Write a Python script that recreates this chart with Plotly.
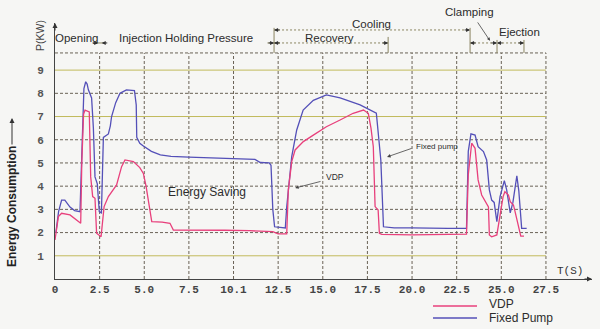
import plotly.graph_objects as go

# ---------------- data ----------------
t_fixed = [0.05, 0.2, 0.37, 0.55, 0.84, 1.1, 1.4, 1.5, 1.62, 1.72, 1.8, 1.87, 2.05, 2.15, 2.24, 2.37,
           2.48, 2.6, 2.71, 2.99, 3.1, 3.17, 3.4, 3.64, 4.0, 4.45, 4.55, 4.58, 4.75, 4.95, 5.4, 5.9,
           6.5, 7.5, 8.5, 9.5, 10.5, 11.2, 11.5, 12.0, 12.1, 12.2, 12.3, 12.9, 12.98, 13.26, 13.54,
           13.9, 14.47, 15.2, 15.97, 17.09, 18.0, 18.1, 18.25, 18.4, 19.0, 20.0, 21.0, 22.0, 23.05,
           23.15, 23.3, 23.53, 23.7, 24.0, 24.18, 24.33, 24.46, 24.6, 24.75, 24.93, 25.17, 25.3,
           25.5, 25.65, 25.87, 25.98, 26.14, 26.42]
p_fixed = [2.0, 2.9, 3.4, 3.4, 3.1, 2.95, 2.9, 5.5, 8.2, 8.5, 8.4, 8.15, 7.8, 6.5, 4.4, 4.1,
           2.9, 2.85, 6.1, 6.25, 6.6, 7.0, 7.6, 8.0, 8.15, 8.12, 7.5, 6.1, 5.85, 5.73, 5.5, 5.35,
           5.28, 5.25, 5.22, 5.2, 5.18, 5.15, 5.02, 5.0, 4.9, 3.0, 2.25, 2.2, 3.1, 5.27, 6.42,
           7.28, 7.7, 7.93, 7.8, 7.5, 7.14, 6.3, 5.13, 2.25, 2.2, 2.2, 2.18, 2.18, 2.18,
           5.5, 6.25, 6.2, 5.7, 5.49, 5.13, 3.84, 3.4, 3.3, 2.47, 3.55, 4.24, 3.84,
           2.85, 3.3, 4.44, 3.8, 2.18, 2.18]

t_vdp = [0.0, 0.19, 0.37, 0.84, 1.44, 1.5, 1.6, 1.68, 1.92, 1.98, 2.0, 2.11, 2.24, 2.33, 2.48, 2.58,
         2.75, 2.99, 3.45, 3.73, 3.92, 4.39, 4.75, 4.95, 5.1, 5.23, 5.42, 6.0, 6.44, 6.63, 8.1, 9.5,
         10.9, 12.2, 12.5, 12.98, 13.07, 13.26, 13.45, 13.91, 14.47, 15.2, 15.97, 16.7, 17.28,
         17.55, 17.7, 17.83, 17.93, 18.1, 18.17, 18.3, 20.0, 22.0, 23.05, 23.15, 23.34, 23.53,
         23.7, 23.9, 24.18, 24.28, 24.33, 24.46, 24.75, 24.93, 25.1, 25.2, 25.4, 25.5, 25.68,
         25.77, 25.96, 26.09, 26.27]
p_vdp = [1.68, 2.69, 2.83, 2.76, 2.4, 5.0, 7.1, 7.28, 7.2, 5.5, 4.4, 3.55, 3.48, 1.97, 1.9, 1.82,
         3.12, 3.55, 4.05, 4.84, 5.13, 5.06, 4.8, 4.55, 4.0, 3.4, 2.47, 2.45, 2.4, 2.11, 2.12, 2.1,
         2.08, 2.04, 1.94, 1.94, 3.84, 5.06, 5.56, 5.92, 6.2, 6.56, 6.85, 7.14, 7.28,
         7.14, 6.5, 5.7, 3.12, 2.97, 1.97, 1.92, 1.9, 1.9, 1.93, 4.5, 5.85, 5.63,
         4.27, 3.62, 3.26, 3.1, 1.9, 1.82, 1.9, 2.83, 3.55, 3.76, 3.62, 3.33, 3.19,
         2.9, 2.25, 1.85, 1.85]

x_ticks = [0, 2.5, 5.0, 7.5, 10.0, 12.5, 15.0, 17.5, 20.0, 22.5, 25.0, 27.5]
x_ticktext = ["0", "2.5", "5.0", "7.5", "10.1", "12.5", "15.0", "17.5", "20.0", "22.5", "25.0", "27.5"]
y_ticks = [1, 2, 3, 4, 5, 6, 7, 8, 9]
y_yellow = [1, 7, 9]
grid_top = 9.74

# phase brackets (seconds)
b_open_inj = 2.5
b_inj_end = 12.27
b_rec_end = 18.66
b_cool_end = 23.25
b_clamp_end = 24.76
b_eject_end = 26.27

# ---------------- styling ----------------
PINK = "#e8407c"
BLUE = "#5450b8"
GRID_DARK = "#6a6256"
GRID_YEL = "#c2ba5c"
BRK = "#8a8460"
TXT = "#2c2c2c"
BG = "#f6f6f4"
DASH = "3px,2px"

W, H = 600, 329
L, R, T, B = 55, 8, 23, 50
XMAX = 30.08
YMAX = 11.03

def px(x):  # pixel -> paper
    return (x - L) / (W - L - R)

def py(y):
    return (H - B - y) / (H - T - B)

fig = go.Figure()
fig.add_trace(go.Scatter(x=t_fixed, y=p_fixed, mode="lines", name="Fixed Pump",
                         line=dict(color=BLUE, width=1.3), showlegend=False))
fig.add_trace(go.Scatter(x=t_vdp, y=p_vdp, mode="lines", name="VDP",
                         line=dict(color=PINK, width=1.3), showlegend=False))

shapes = []
# vertical grid
for xv in x_ticks[1:]:
    shapes.append(dict(type="line", xref="x", yref="y", x0=xv, x1=xv, y0=0, y1=grid_top,
                       line=dict(color=GRID_DARK, width=1, dash=DASH), layer="below"))
# horizontal grid
for yv in y_ticks:
    yel = yv in y_yellow
    shapes.append(dict(type="line", xref="x", yref="y", x0=0, x1=x_ticks[-1], y0=yv, y1=yv,
                       line=dict(color=GRID_YEL if yel else GRID_DARK, width=1,
                                 dash="solid" if yel else DASH), layer="below"))
shapes.append(dict(type="line", xref="x", yref="y", x0=0, x1=x_ticks[-1], y0=grid_top, y1=grid_top,
                   line=dict(color=GRID_DARK, width=1, dash=DASH), layer="below"))

# bracket lines
def hline(x0, x1, y, dash="2px,2px"):
    shapes.append(dict(type="line", xref="x", yref="y", x0=x0, x1=x1, y0=y, y1=y,
                       line=dict(color=BRK, width=1, dash=dash)))

def vline(x, y0, y1):
    shapes.append(dict(type="line", xref="x", yref="y", x0=x, x1=x, y0=y0, y1=y1,
                       line=dict(color=BRK, width=1)))

ROW1 = 10.17
ROW2 = 10.73
hline(2.3, 2.75, ROW1, "solid")
hline(11.9, 12.6, ROW1, "solid")
hline(b_inj_end, b_rec_end, ROW1)
hline(b_inj_end, b_cool_end, ROW2)
hline(b_cool_end, b_eject_end, ROW1)
vline(b_inj_end, grid_top, 10.82)
vline(b_rec_end, grid_top, 10.43)
vline(b_cool_end, grid_top, 10.82)
vline(b_clamp_end, grid_top, 10.3)
vline(b_eject_end, grid_top, 10.3)

# legend keys
shapes.append(dict(type="line", xref="paper", yref="paper", x0=px(433), x1=px(477), y0=py(306), y1=py(306),
                   line=dict(color=PINK, width=1.3)))
shapes.append(dict(type="line", xref="paper", yref="paper", x0=px(433), x1=px(477), y0=py(318), y1=py(318),
                   line=dict(color=BLUE, width=1.3)))

ann = []

def head(x, y, direction):
    # small arrowhead at (x, y) pointing left or right
    ann.append(dict(x=x, y=y, xref="x", yref="y", text="", showarrow=True,
                    ax=(-7 if direction == "right" else 7), ay=0,
                    arrowhead=2, arrowsize=0.8, arrowwidth=1, arrowcolor="#333"))

head(b_open_inj - 0.08, ROW1, "right")
head(b_open_inj + 0.12, ROW1, "left")
head(b_inj_end, ROW1, "right")
head(b_inj_end, ROW1, "left")
head(b_rec_end, ROW1, "right")
head(b_inj_end, ROW2, "left")
head(b_cool_end, ROW2, "right")
head(b_cool_end, ROW1, "left")
head(b_clamp_end, ROW1, "right")
head(b_clamp_end, ROW1, "left")
head(b_eject_end, ROW1, "right")

def label(text, x, y, size=11.5):
    ann.append(dict(x=x, y=y, xref="x", yref="y", text=text,
                    showarrow=False, font=dict(family="Liberation Sans, Arial", size=size, color=TXT),
                    xanchor="center", yanchor="middle"))

def plabel(text, x, y, size=11.5, family="Liberation Sans, Arial", color=TXT, angle=0, xanchor="center"):
    ann.append(dict(x=px(x), y=py(y), xref="paper", yref="paper", text=text, textangle=angle,
                    showarrow=False, font=dict(family=family, size=size, color=color),
                    xanchor=xanchor, yanchor="middle"))

label("Opening", 1.23, 10.39)
label("Injection Holding Pressure", 7.34, 10.39)
label("Recovery", 15.4, 10.39)
label("Cooling", 17.74, 10.99)
plabel("Clamping", 469, 12)
label("Ejection", 26.0, 10.65)
label("Energy Saving", 8.49, 3.75, size=12)

# small callouts with arrows
ann.append(dict(x=13.45, y=3.92, ax=14.96, ay=4.22, axref="x", ayref="y", xref="x", yref="y",
                text="", showarrow=True, arrowhead=2, arrowsize=0.9, arrowwidth=0.8, arrowcolor="#444"))
ann.append(dict(x=15.05, y=4.4, xref="x", yref="y", text="VDP", showarrow=False, xanchor="left",
                yanchor="middle", font=dict(family="Liberation Sans, Arial", size=8.5, color=TXT)))
ann.append(dict(x=18.6, y=5.26, ax=20.06, ay=5.65, axref="x", ayref="y", xref="x", yref="y",
                text="", showarrow=True, arrowhead=2, arrowsize=0.9, arrowwidth=0.8, arrowcolor="#444"))
ann.append(dict(x=20.1, y=5.73, xref="x", yref="y", text="Fixed pump", showarrow=False, xanchor="left",
                yanchor="middle", font=dict(family="Liberation Sans, Arial", size=8, color=TXT)))
ann.append(dict(x=24.37, y=10.26, ax=23.62, ay=11.12, axref="x", ayref="y", xref="x", yref="y",
                text="", showarrow=True, arrowhead=2, arrowsize=0.8, arrowwidth=0.8, arrowcolor="#444"))

# axis arrowheads
ann.append(dict(x=XMAX, y=0, xref="x", yref="y", text="", showarrow=True, ax=-9, ay=0,
                arrowhead=2, arrowsize=1, arrowwidth=1, arrowcolor="#333"))
ann.append(dict(x=0, y=YMAX, xref="x", yref="y", text="", showarrow=True, ax=0, ay=9,
                arrowhead=2, arrowsize=1, arrowwidth=1, arrowcolor="#333"))

# axis titles
plabel("P(KW)", 40, 36, size=10.5, color="#444", angle=-90)
plabel("T(S)", 570, 271, size=11, family="Liberation Mono, Courier New", color="#333")
plabel("<b>Energy Consumption</b>", 12, 207, size=12, color="#222", angle=-90)
ann.append(dict(x=px(12), y=py(118), xref="paper", yref="paper", ax=0, ay=28,
                text="", showarrow=True, arrowhead=2, arrowsize=1,
                arrowwidth=1, arrowcolor="#333"))

# legend text
plabel("VDP", 487, 304, size=12, xanchor="left")
plabel("Fixed Pump", 487, 318, size=12, xanchor="left")

fig.update_layout(
    width=W, height=H,
    margin=dict(l=L, r=R, t=T, b=B),
    paper_bgcolor=BG, plot_bgcolor=BG,
    shapes=shapes, annotations=ann, showlegend=False,
    xaxis=dict(range=[0, XMAX], tickvals=x_ticks, ticktext=x_ticktext, showgrid=False,
               zeroline=False, showline=True, linecolor="#444", linewidth=1, ticks="",
               tickfont=dict(family="Liberation Mono, Courier New", size=11, color="#444", weight="bold")),
    yaxis=dict(range=[0, YMAX], tickvals=y_ticks, showgrid=False, zeroline=False,
               showline=True, linecolor="#444", linewidth=1, ticks="", ticklabelstandoff=8,
               tickfont=dict(family="Liberation Mono, Courier New", size=11, color="#555", weight="bold")),
)

fig.write_html("out.html")
